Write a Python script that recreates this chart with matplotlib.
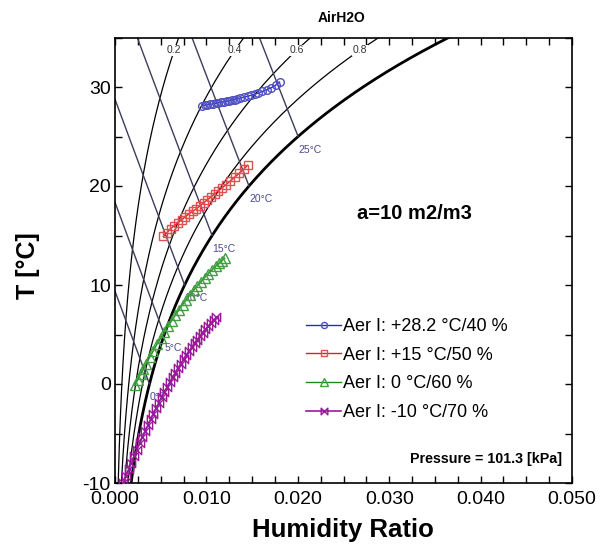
import numpy as np
import matplotlib
matplotlib.use("Agg")
import matplotlib.pyplot as plt
from matplotlib.path import Path
from matplotlib.ticker import MultipleLocator, FormatStrFormatter

plt.rcParams['font.family'] = ['Liberation Sans', 'DejaVu Sans']
plt.rcParams['axes.unicode_minus'] = False

P = 101.325  # kPa
rh_levels = [0.2, 0.4, 0.6, 0.8, 1.0]
rh_labels = ["0.2", "0.4", "0.6", "0.8"]
wb_temps = [0, 5, 10, 15, 20, 25]

# measured states (humidity ratio, temperature)
w_blue = [0.0095, 0.0098, 0.0101, 0.0104, 0.0107, 0.0110, 0.0113, 0.0116, 0.0119,
          0.0122, 0.0125, 0.0128, 0.0131, 0.0134, 0.0137, 0.0141, 0.0145, 0.0149,
          0.0153, 0.0157, 0.0161, 0.0166, 0.0171, 0.0176, 0.0180]
t_blue = [28.1, 28.15, 28.2, 28.25, 28.3, 28.35, 28.4, 28.45, 28.5, 28.55, 28.6,
          28.65, 28.72, 28.8, 28.88, 28.97, 29.06, 29.16, 29.27, 29.4, 29.55,
          29.72, 29.92, 30.2, 30.5]

w_red = [0.0053, 0.0057, 0.0061, 0.0065, 0.0069, 0.0073, 0.0077, 0.0081, 0.0085,
         0.0089, 0.0093, 0.0097, 0.0101, 0.0105, 0.0109, 0.0113, 0.0117, 0.0121,
         0.0126, 0.0131, 0.0136, 0.0141, 0.0145]
t_red = [14.9, 15.3, 15.7, 16.0, 16.3, 16.6, 16.9, 17.2, 17.45, 17.7, 18.0, 18.3,
         18.6, 18.9, 19.2, 19.5, 19.8, 20.1, 20.5, 20.9, 21.3, 21.7, 22.1]

w_green = [0.0022, 0.0025, 0.0028, 0.0031, 0.0034, 0.0038, 0.0042, 0.0046, 0.0050,
           0.0054, 0.0058, 0.0062, 0.0066, 0.0070, 0.0074, 0.0078, 0.0082, 0.0086,
           0.0090, 0.0094, 0.0098, 0.0102, 0.0106, 0.0110, 0.0114, 0.0117, 0.0120]
t_green = [-0.1, 0.45, 0.99, 1.52, 2.04, 2.71, 3.37, 4.02, 4.64, 5.25, 5.83, 6.40,
           6.96, 7.49, 8.01, 8.51, 8.99, 9.46, 9.91, 10.34, 10.75, 11.14, 11.52,
           11.88, 12.22, 12.46, 12.70]

w_purple = [0.0009, 0.0012, 0.0015, 0.0018, 0.0021, 0.0024, 0.0027, 0.0030, 0.0033,
            0.0036, 0.0039, 0.0042, 0.0045, 0.0048, 0.0051, 0.0054, 0.0057, 0.0060,
            0.0063, 0.0066, 0.0069, 0.0072, 0.0075, 0.0078, 0.0081, 0.0084, 0.0087,
            0.0090, 0.0093, 0.0096, 0.0099, 0.0102, 0.0105, 0.0108, 0.0111]
t_purple = [-10.0, -9.30, -8.61, -7.94, -7.28, -6.63, -5.99, -5.37, -4.75, -4.16,
            -3.57, -2.99, -2.43, -1.88, -1.35, -0.82, -0.31, 0.19, 0.67, 1.15, 1.61,
            2.06, 2.49, 2.92, 3.33, 3.73, 4.11, 4.49, 4.85, 5.20, 5.53, 5.86, 6.17,
            6.46, 6.75]

labels = ["Aer I: +28.2 \u00b0C/40 %", "Aer I: +15 \u00b0C/50 %",
          "Aer I: 0 \u00b0C/60 %", "Aer I: -10 \u00b0C/70 %"]


def p_sat(t):
    return 0.61094 * np.exp(17.625 * t / (t + 243.04))


def w_from_pv(pv):
    return 0.622 * pv / (P - pv)


bowtie = Path([(-1, 1), (1, -1), (1, 1), (-1, -1), (-1, 1)],
              [Path.MOVETO, Path.LINETO, Path.LINETO, Path.LINETO, Path.CLOSEPOLY])

fig = plt.figure(figsize=(6.01, 5.5), dpi=100)
ax = fig.add_axes([115 / 601, 67 / 550, 457 / 601, 445.5 / 550])

# relative humidity curves
T = np.linspace(-10, 36, 400)
for phi in rh_levels:
    w = w_from_pv(phi * p_sat(T))
    ax.plot(w, T, color="black", lw=2.0 if phi == 1.0 else 0.9, zorder=2)

for phi, txt in zip(rh_levels[:-1], rh_labels):
    tl = 33.7
    wl = w_from_pv(phi * p_sat(tl))
    ax.text(wl, tl, txt, fontsize=7.5, color="#333333", ha="center", va="center",
            bbox=dict(facecolor="white", edgecolor="none", pad=0.5), zorder=3)

# wet-bulb lines
for twb in wb_temps:
    ws = w_from_pv(p_sat(twb))
    t0 = twb + (2501 - 2.326 * twb) * ws / 1.006
    tt = np.linspace(twb, t0, 100)
    ww = ((2501 - 2.326 * twb) * ws - 1.006 * (tt - twb)) / (2501 + 1.86 * tt - 4.186 * twb)
    ax.plot(ww, tt, color="#3d3d5c", lw=1.0, zorder=2)
    ax.annotate(f"{twb}\u00b0C", (ws, twb), xytext=(0, -6), textcoords="offset points",
                fontsize=7.5, color="#4a4a8c", ha="left", va="top", zorder=3)

# measured states
ax.plot(w_blue, t_blue, color="#2a2ad0", lw=1, marker="o", ms=5.5, mfc="none",
        mec="#5050c0", mew=1, label=labels[0], zorder=5)
ax.plot(w_red, t_red, color="#e02020", lw=1, marker="s", ms=6, mfc="none",
        mec="#e05050", mew=1, label=labels[1], zorder=5)
ax.plot(w_green, t_green, color="#1e8a1e", lw=1, marker="^", ms=6.5, mfc="none",
        mec="#40a040", mew=1, label=labels[2], zorder=5)
ax.plot(w_purple, t_purple, color="#9a1a9a", lw=1.2, marker=bowtie, ms=6,
        mfc="none", mec="#9a1a9a", mew=1, label=labels[3], zorder=5)

ax.set_xlim(0, 0.05)
ax.set_ylim(-10, 35)
ax.xaxis.set_major_locator(MultipleLocator(0.01))
ax.xaxis.set_minor_locator(MultipleLocator(0.0025))
ax.yaxis.set_major_locator(MultipleLocator(10))
ax.yaxis.set_minor_locator(MultipleLocator(5))
ax.xaxis.set_major_formatter(FormatStrFormatter("%.3f"))
ax.tick_params(which="both", direction="in", top=True, right=True, length=5,
               width=1, labelsize=14)
ax.tick_params(axis="x", pad=6)
ax.tick_params(axis="y", pad=3)
for s in ax.spines.values():
    s.set_linewidth(1.2)

ax.legend(loc="upper left", bbox_to_anchor=(0.419, 0.37), frameon=False,
          fontsize=13, handlelength=1.9, handletextpad=0.1, borderpad=0,
          borderaxespad=0, labelspacing=0.64, markerscale=0.8)

ax.text(0.656, 0.606, "a=10 m2/m3", transform=ax.transAxes, fontsize=14.5,
        fontweight="bold", ha="center", va="center")
ax.text(0.978, 0.054, "Pressure = 101.3 [kPa]", transform=ax.transAxes,
        fontsize=10.3, fontweight="bold", ha="right", va="center")

fig.text(342 / 601, 1 - 18 / 550, "AirH2O", fontsize=10, fontweight="bold",
         ha="center", va="center")
fig.text(343 / 601, 1 - 530 / 550, "Humidity Ratio", fontsize=18.5,
         fontweight="bold", ha="center", va="center")
fig.text(28 / 601, 1 - 266 / 550, "T [\u00b0C]", fontsize=18, fontweight="bold",
         rotation=90, ha="center", va="center")

fig.savefig("out.png", dpi=100)
